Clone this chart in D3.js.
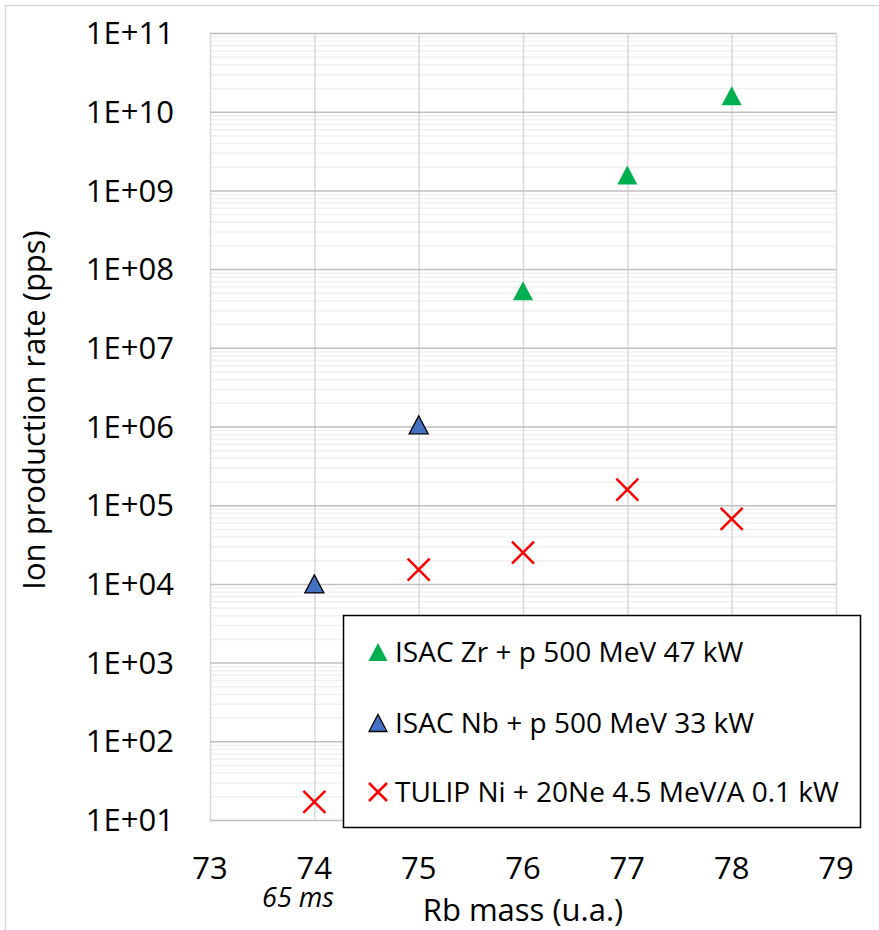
<!DOCTYPE html>
<html>
<head>
  <meta charset="UTF-8">
  <style>
    body { margin: 0; background: #fff; }
    svg { display: block; font-family: "Open Sans", sans-serif; }
  </style>
</head>
<body>
<svg></svg>
<script src="https://d3js.org/d3.v7.min.js"></script>
<script>

// values
let zrMass = [76, 77, 78];
let zrRate = [5.3e7, 1.57e9, 1.6e10];
let nbMass = [74, 75];
let nbRate = [1.0e4, 1.05e6];
let tulipMass = [74, 75, 76, 77, 78];
let tulipRate = [17, 1.52e4, 2.5e4, 1.58e5, 6.7e4];

let xTicks = [73, 74, 75, 76, 77, 78, 79];
let yTicks = [1e1, 1e2, 1e3, 1e4, 1e5, 1e6, 1e7, 1e8, 1e9, 1e10, 1e11];
let legendLabels = ["ISAC Zr + p 500 MeV 47 kW", "ISAC Nb + p 500 MeV 33 kW", "TULIP Ni + 20Ne 4.5 MeV/A 0.1 kW"];

let width = 879, height = 930;
let svg = d3.select("svg").attr("width", width).attr("height", height);

let pLeft = 210, pRight = 836, pTop = 33, pBottom = 820;

let x = d3.scaleLinear().domain([73, 79]).range([pLeft, pRight]);
let y = d3.scaleLog().domain([1e1, 1e11]).range([pBottom, pTop]);

// outer chart border (only top and left are visible)
svg.append("rect")
  .attr("x", 5.5).attr("y", 5.5)
  .attr("width", 1000).attr("height", 1000)
  .attr("fill", "none").attr("stroke", "#d9d9d9").attr("stroke-width", 1.5);

// minor log gridlines
let minor = [];
yTicks.slice(0, -1).forEach(d => { for (let k = 2; k <= 9; k++) minor.push(d * k); });

svg.append("g")
  .attr("transform", "translate(" + pLeft + ",0)")
  .call(d3.axisLeft(y).tickValues(minor).tickSize(-(pRight - pLeft)).tickFormat(""))
  .call(g => g.select(".domain").remove())
  .call(g => g.selectAll("line").attr("stroke", "#f0f0f0").attr("stroke-width", 1.5));

// vertical gridlines
svg.append("g")
  .attr("transform", "translate(0," + pBottom + ")")
  .call(d3.axisBottom(x).tickValues(xTicks).tickSize(-(pBottom - pTop)).tickFormat(""))
  .call(g => g.select(".domain").remove())
  .call(g => g.selectAll("line").attr("stroke", "#d9d9d9").attr("stroke-width", 1.5));

// major gridlines
svg.append("g")
  .attr("transform", "translate(" + pLeft + ",0)")
  .call(d3.axisLeft(y).tickValues(yTicks).tickSize(-(pRight - pLeft)).tickFormat(""))
  .call(g => g.select(".domain").remove())
  .call(g => g.selectAll("line").attr("stroke", "#bfbfbf").attr("stroke-width", 1.5));

// y tick labels
let fmt = d => "1E+" + String(Math.round(Math.log10(d))).padStart(2, "0");
svg.append("g")
  .selectAll("text")
  .data(yTicks)
  .enter()
  .append("text")
  .attr("x", 174)
  .attr("y", d => y(d))
  .attr("dy", "0.36em")
  .attr("text-anchor", "end")
  .style("font-size", "31px")
  .attr("fill", "#000")
  .text(fmt);

// x tick labels
svg.append("g")
  .selectAll("text")
  .data(xTicks)
  .enter()
  .append("text")
  .attr("x", d => x(d))
  .attr("y", 879)
  .attr("text-anchor", "middle")
  .style("font-size", "31px")
  .attr("fill", "#000")
  .text(d => d);

svg.append("text")
  .attr("x", 298).attr("y", 907)
  .attr("text-anchor", "middle")
  .style("font-size", "27px").style("font-style", "italic")
  .text("65 ms");

// axis titles
svg.append("text")
  .attr("x", (pLeft + pRight) / 2).attr("y", 921)
  .attr("text-anchor", "middle")
  .style("font-size", "31px")
  .text("Rb mass (u.a.)");

svg.append("text")
  .attr("transform", "translate(45,410) rotate(-90)")
  .attr("text-anchor", "middle")
  .style("font-size", "31px")
  .text("Ion production rate (pps)");

// markers
let tri = (w, h) => "M0," + (-h / 2) + "L" + (w / 2) + "," + (h / 2) + "L" + (-w / 2) + "," + (h / 2) + "Z";
let cross = s => "M" + (-s) + "," + (-s) + "L" + s + "," + s + "M" + (-s) + "," + s + "L" + s + "," + (-s);

svg.append("g")
  .selectAll("path")
  .data(d3.zip(zrMass, zrRate))
  .enter()
  .append("path")
  .attr("transform", d => "translate(" + x(d[0]) + "," + y(d[1]) + ")")
  .attr("d", tri(20, 19))
  .attr("fill", "#00b050");

svg.append("g")
  .selectAll("path")
  .data(d3.zip(nbMass, nbRate))
  .enter()
  .append("path")
  .attr("transform", d => "translate(" + x(d[0]) + "," + y(d[1]) + ")")
  .attr("d", tri(19, 18))
  .attr("fill", "#4472c4")
  .attr("stroke", "#000").attr("stroke-width", 1.3);

svg.append("g")
  .selectAll("path")
  .data(d3.zip(tulipMass, tulipRate))
  .enter()
  .append("path")
  .attr("transform", d => "translate(" + x(d[0]) + "," + y(d[1]) + ")")
  .attr("d", cross(11))
  .attr("fill", "none")
  .attr("stroke", "#ff0000").attr("stroke-width", 2.5);

// legend
let legend = svg.append("g");
legend.append("rect")
  .attr("x", 343.5).attr("y", 615.5)
  .attr("width", 517).attr("height", 212)
  .attr("fill", "#fff").attr("stroke", "#000").attr("stroke-width", 1.5);

let rowY = [652, 723, 792];
legend.append("path")
  .attr("transform", "translate(378," + rowY[0] + ")")
  .attr("d", tri(19, 18)).attr("fill", "#00b050");
legend.append("path")
  .attr("transform", "translate(378," + rowY[1] + ")")
  .attr("d", tri(18, 17)).attr("fill", "#4472c4")
  .attr("stroke", "#000").attr("stroke-width", 1.3);
legend.append("path")
  .attr("transform", "translate(378," + rowY[2] + ")")
  .attr("d", cross(9)).attr("fill", "none")
  .attr("stroke", "#ff0000").attr("stroke-width", 2.5);

legend.selectAll("text")
  .data(legendLabels)
  .enter()
  .append("text")
  .attr("x", 395)
  .attr("y", (d, i) => rowY[i])
  .attr("dy", "0.36em")
  .style("font-size", "28px")
  .text(d => d);

</script>
</body>
</html>
